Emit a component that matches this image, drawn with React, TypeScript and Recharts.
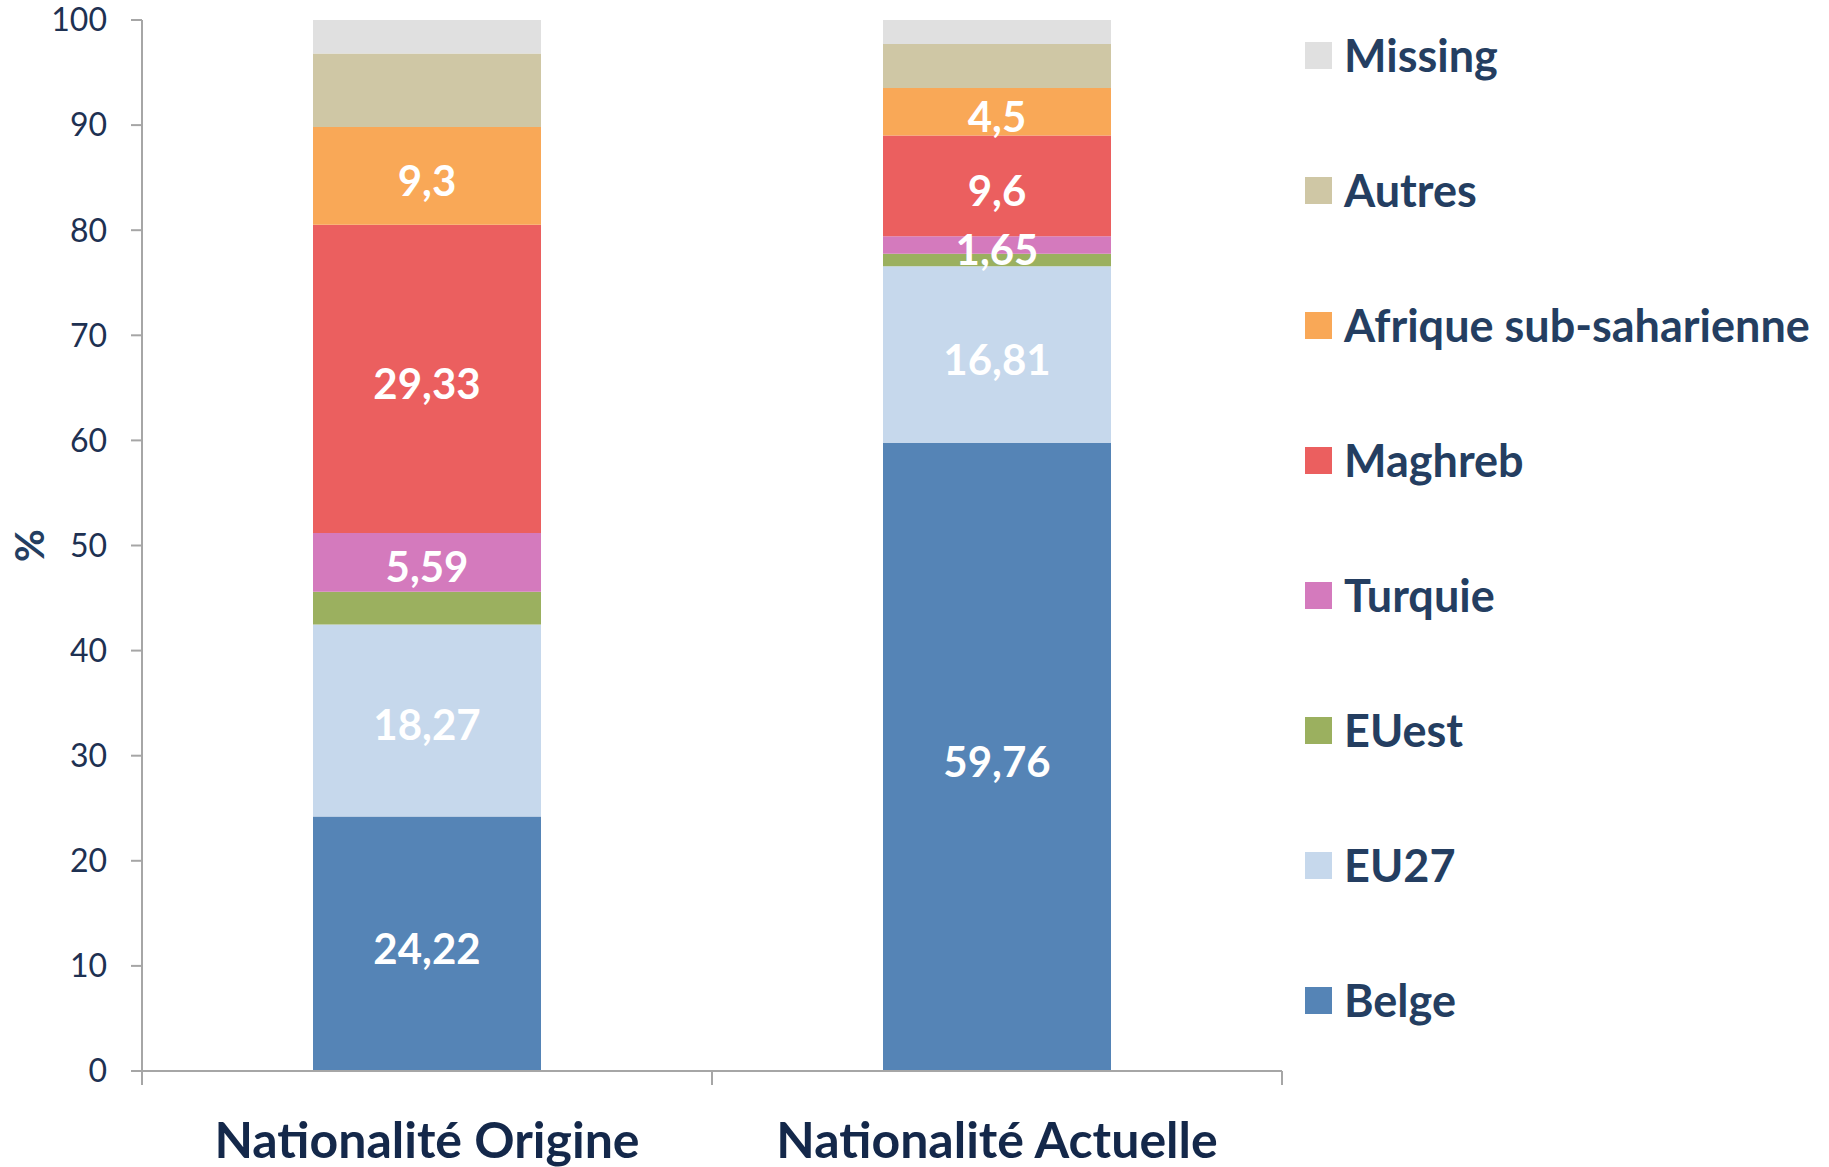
import React from 'react';
import { BarChart, Bar, XAxis, YAxis, LabelList, Legend } from 'recharts';

const categories = ['Nationalité Origine', 'Nationalité Actuelle'];
const categoryPositions = [0.5, 1.5];
const seriesNames = ['Belge', 'EU27', 'EUest', 'Turquie', 'Maghreb', 'Afrique sub-saharienne', 'Autres', 'Missing'];
const belge = [24.22, 59.76];
const eu27 = [18.27, 16.81];
const euest = [3.1, 1.2];
const turquie = [5.59, 1.65];
const maghreb = [29.33, 9.6];
const afrique = [9.3, 4.5];
const autres = [7.0, 4.2];
const missing = [3.19, 2.28];
const seriesValues = [belge, eu27, euest, turquie, maghreb, afrique, autres, missing];
const seriesColors = ['#5584B6', '#C6D8EC', '#9BB05F', '#D47ABD', '#EB5F5F', '#F9A857', '#CFC7A5', '#E0E0E0'];
const labelledSeries = [true, true, false, true, true, true, false, false];
const yTicks = [0, 10, 20, 30, 40, 50, 60, 70, 80, 90, 100];
const xTicks = [0, 0.5, 1, 1.5, 2];

const FONT = 'Lato, "Open Sans", sans-serif';
const NAVY = '#1E3152';
const AXIS_GRAY = '#A6A6A6';

const data = categories.map((name, i) => {
  const row: Record<string, any> = { name, pos: categoryPositions[i] };
  seriesNames.forEach((s, k) => {
    row[s] = seriesValues[k][i];
  });
  return row;
});

const fmt = (v: any) => String(v).replace('.', ',');

const XTick = (props: any) => {
  const { x, y, payload } = props;
  const v = payload.value;
  if (Number.isInteger(v)) {
    return <line x1={x} x2={x} y1={y} y2={y + 14} stroke={AXIS_GRAY} strokeWidth={2} />;
  }
  const label = categories[Math.floor(v)];
  return (
    <text x={x} y={y + 87} textAnchor="middle" fontFamily={FONT} fontWeight={700} fontSize={50} fill="#14284A">
      {label}
    </text>
  );
};

const YLabel = (props: any) => {
  const vb = props.viewBox || {};
  const cx = 29;
  const cy = (vb.y ?? 0) + (vb.height ?? 0) / 2;
  return (
    <text x={cx} y={cy} transform={`rotate(-90, ${cx}, ${cy})`} textAnchor="middle" dominantBaseline="central"
      fontFamily={FONT} fontWeight={700} fontSize={40} fill="#243E61">%</text>
  );
};

const SegmentLabel = (props: any) => {
  const { x, y, width, height, value } = props;
  return (
    <text x={x + width / 2} y={y + height / 2 + 4} textAnchor="middle" dominantBaseline="central"
      fontFamily={FONT} fontWeight={700} fontSize={42} fill="#ffffff">
      {fmt(value)}
    </text>
  );
};

const LegendContent = () => {
  const order = seriesNames.map((n, i) => i).reverse();
  return (
    <div style={{ display: 'flex', flexDirection: 'column' }}>
      {order.map((i) => (
        <div key={seriesNames[i]} style={{ display: 'flex', alignItems: 'center', height: 27, marginBottom: 108 }}>
          <div style={{ width: 27, height: 27, background: seriesColors[i], marginRight: 12 }} />
          <span style={{ fontFamily: FONT, fontWeight: 700, fontSize: 45, color: '#243E61', lineHeight: '27px', whiteSpace: 'nowrap' }}>
            {seriesNames[i]}
          </span>
        </div>
      ))}
    </div>
  );
};

export default function App() {
  return (
    <div style={{ position: 'absolute', left: 0, top: 0, width: 1829, height: 1167, background: '#fff' }}>
      <BarChart width={1829} height={1167} data={data} margin={{ top: 20, right: 547, bottom: 0, left: 0 }}>
        <XAxis
          dataKey="pos"
          type="number"
          domain={[0, 2]}
          ticks={xTicks}
          interval={0}
          tickLine={false}
          tickSize={0}
          tickMargin={0}
          axisLine={{ stroke: AXIS_GRAY, strokeWidth: 2 }}
          tick={<XTick />}
          height={96}
        />
        <YAxis
          type="number"
          domain={[0, 100]}
          ticks={yTicks}
          interval={0}
          width={142}
          tickSize={11}
          tickMargin={24}
          axisLine={{ stroke: AXIS_GRAY, strokeWidth: 2 }}
          tickLine={{ stroke: AXIS_GRAY, strokeWidth: 2 }}
          tick={{ fontFamily: FONT, fontSize: 32, fill: NAVY }}
          label={<YLabel />}
        />
        <Legend
          layout="vertical"
          align="center"
          verticalAlign="middle"
          content={<LegendContent />}
          wrapperStyle={{ left: 1305, top: 42, width: 520, height: 'auto' }}
        />
        {seriesNames.map((s, k) => (
          <Bar key={s} dataKey={s} stackId="a" fill={seriesColors[k]} barSize={228} isAnimationActive={false}>
            {labelledSeries[k] && <LabelList dataKey={s} content={<SegmentLabel />} />}
          </Bar>
        ))}
      </BarChart>
    </div>
  );
}
